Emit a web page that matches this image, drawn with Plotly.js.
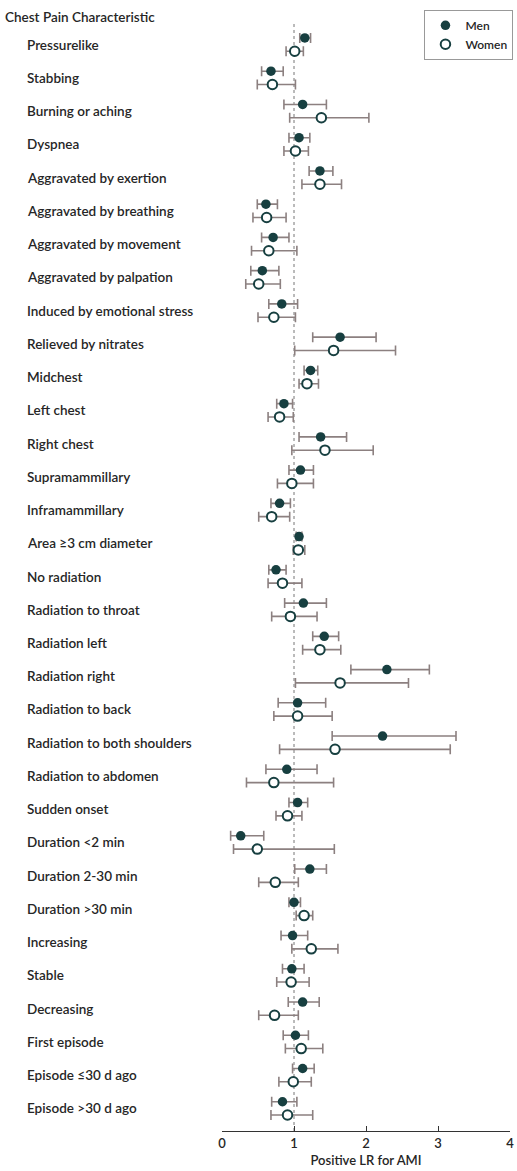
<!DOCTYPE html>
<html>
<head>
<meta charset="utf-8">
<script src="https://cdn.plot.ly/plotly-3.0.1.min.js"></script>
<style>
html,body{margin:0;padding:0;background:#fff;}
#chart{width:517px;height:1171px;}
</style>
</head>
<body>
<div id="chart"></div>
<script>
const categories = [
  "Pressurelike","Stabbing","Burning or aching","Dyspnea","Aggravated by exertion",
  "Aggravated by breathing","Aggravated by movement","Aggravated by palpation",
  "Induced by emotional stress","Relieved by nitrates","Midchest","Left chest",
  "Right chest","Supramammillary","Inframammillary","Area \u22653 cm diameter",
  "No radiation","Radiation to throat","Radiation left","Radiation right",
  "Radiation to back","Radiation to both shoulders","Radiation to abdomen",
  "Sudden onset","Duration <2 min","Duration 2-30 min","Duration >30 min",
  "Increasing","Stable","Decreasing","First episode","Episode \u226430 d ago","Episode >30 d ago"
];
const menLR   = [1.15,0.68,1.12,1.07,1.36,0.61,0.71,0.56,0.83,1.64,1.23,0.86,1.37,1.09,0.80,1.07,0.75,1.13,1.42,2.29,1.05,2.23,0.90,1.05,0.26,1.22,1.00,0.98,0.97,1.12,1.02,1.12,0.84];
const menLow  = [1.08,0.55,0.86,0.93,1.21,0.49,0.55,0.40,0.65,1.26,1.14,0.76,1.07,0.93,0.68,1.03,0.65,0.87,1.26,1.79,0.78,1.53,0.61,0.93,0.12,1.01,0.93,0.82,0.84,0.92,0.85,0.98,0.69];
const menHigh = [1.23,0.85,1.45,1.22,1.54,0.77,0.93,0.79,1.05,2.14,1.33,0.98,1.73,1.27,0.95,1.11,0.89,1.45,1.62,2.88,1.44,3.25,1.32,1.19,0.58,1.45,1.09,1.19,1.14,1.35,1.20,1.28,1.04];
const womenLR   = [1.01,0.70,1.38,1.02,1.36,0.62,0.65,0.51,0.72,1.55,1.18,0.80,1.43,0.97,0.69,1.06,0.84,0.95,1.36,1.64,1.05,1.57,0.72,0.91,0.49,0.74,1.14,1.24,0.96,0.73,1.10,0.99,0.91];
const womenLow  = [0.89,0.49,0.94,0.86,1.11,0.43,0.41,0.33,0.50,1.01,1.07,0.64,0.97,0.77,0.51,0.99,0.64,0.69,1.12,1.02,0.72,0.80,0.34,0.75,0.16,0.51,1.03,0.97,0.76,0.51,0.88,0.79,0.68];
const womenHigh = [1.13,1.02,2.04,1.20,1.66,0.89,1.04,0.81,1.02,2.41,1.34,0.99,2.10,1.27,0.94,1.15,1.11,1.32,1.65,2.59,1.53,3.17,1.55,1.11,1.56,1.06,1.26,1.61,1.21,1.06,1.40,1.24,1.26];
const xTicks = [0,1,2,3,4];
const seriesNames = ["Men","Women"];

const FONT = "Lato, 'Open Sans', sans-serif";
const W = 600;
const TXT = '#262626';
const dark = "#173f40";
const errCol = "#8c8080";
const off = 0.2;
const idx = categories.map((c,i)=>i);

function mk(name, vals, lo, hi, dy, filled){
  return {
    type:'scatter', mode:'markers', name:name,
    x: vals, y: idx.map(i=>i+dy),
    error_x:{type:'data', symmetric:false,
      array: vals.map((v,i)=>hi[i]-v), arrayminus: vals.map((v,i)=>v-lo[i]),
      color:errCol, thickness:1.6, width:5},
    marker:{symbol:'circle', size:9.5, color: filled?dark:'#ffffff',
      line:{color:dark, width: filled?0:2}},
    hoverinfo:'x+name'
  };
}
const data = [
  mk(seriesNames[0], menLR, menLow, menHigh, -off, true),
  mk(seriesNames[1], womenLR, womenLow, womenHigh, off, false)
];

const annotations = categories.map((c,i)=>({
  text:c, x:-0.683, xref:'paper', y:i, yref:'y', xanchor:'left', yanchor:'middle',
  showarrow:false, font:{family:FONT, size:13.5, weight:W, color:TXT}
}));
annotations.push({
  text:'Chest Pain Characteristic', x:-0.759, xref:'paper', y:1.0045, yref:'paper',
  xanchor:'left', yanchor:'middle', showarrow:false, font:{family:FONT, size:13.5, weight:W, color:TXT}
});

const layout = {
  width:517, height:1171,
  margin:{l:222, r:4, t:22, b:40},
  paper_bgcolor:'#fff', plot_bgcolor:'#fff',
  font:{family:FONT, size:13, color:TXT},
  showlegend:true,
  legend:{x:1.012, y:1.011, xanchor:'right', yanchor:'top', bgcolor:'#fff',
    bordercolor:'#999', borderwidth:1, font:{family:FONT, size:12, weight:W, color:TXT},
    itemwidth:30, tracegroupgap:0},
  xaxis:{range:[0,4], tickvals:xTicks, ticktext:xTicks.map(String), showgrid:false, zeroline:false,
    showline:true, linecolor:'#333', linewidth:1, ticks:'inside', ticklen:5, tickcolor:'#333',
    tickfont:{family:FONT, size:13, weight:W, color:TXT},
    title:{text:'Positive LR for AMI', font:{family:FONT, size:13, weight:W, color:TXT}, standoff:6},
    fixedrange:true, automargin:false},
  yaxis:{range:[32.68,-0.68], showgrid:false, zeroline:false, showticklabels:false,
    showline:false, ticks:'', fixedrange:true},
  shapes:[{type:'line', xref:'x', yref:'paper', x0:1, x1:1, y0:0, y1:1,
    line:{color:'#777', width:1, dash:'dot'}, layer:'below'}],
  annotations:annotations
};
Plotly.newPlot('chart', data, layout, {displayModeBar:false, staticPlot:true});
</script>
</body>
</html>
